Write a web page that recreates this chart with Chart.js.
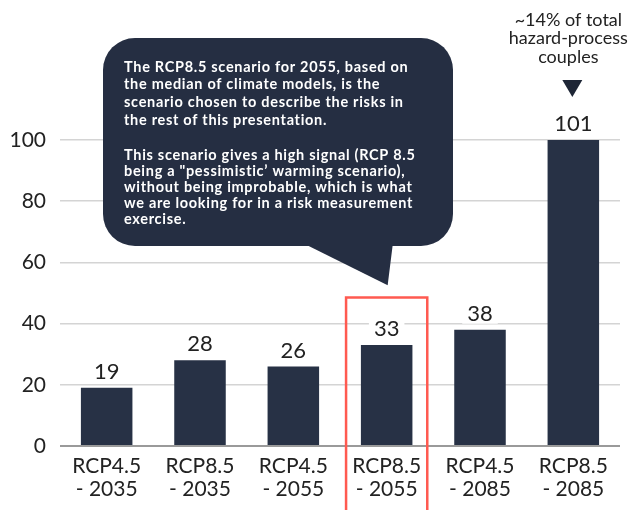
<!DOCTYPE html>
<html>
<head>
<meta charset="utf-8">
<script src="https://cdn.jsdelivr.net/npm/chart.js@4"></script>
<style>
  html, body { margin: 0; padding: 0; background: #fff; }
  #wrap { width: 634px; height: 510px; }
</style>
</head>
<body>
<div id="wrap"><canvas id="chart" width="634" height="510"></canvas></div>
<script>
// data
const categories = [
    ['RCP4.5', '- 2035'],
    ['RCP8.5', '- 2035'],
    ['RCP4.5', '- 2055'],
    ['RCP8.5', '- 2055'],
    ['RCP4.5', '- 2085'],
    ['RCP8.5', '- 2085']
]
const hazardCouples = [19, 28, 26, 33, 38, 101]
const yMin = 0
const yMax = 100
const yStep = 20
const chosenIndex = 3
const calloutPara1 = [
    'The RCP8.5 scenario for 2055, based on',
    'the median of climate models, is the',
    'scenario chosen to describe the risks in',
    'the rest of this presentation.'
]
const calloutPara2 = [
    'This scenario gives a high signal (RCP 8.5',
    'being a "pessimistic\u2019 warming scenario),',
    'without being improbable, which is what',
    'we are looking for in a risk measurement',
    'exercise.'
]
const noteLines = ['~14% of total', 'hazard-process', 'couples']

const FONT = 'Lato, "Noto Sans", sans-serif'
const navy = '#273145'

// value labels on a white patch that cuts the grid lines
const valueLabels = {
    id: 'valueLabels',
    afterDatasetsDraw(chart) {
        const ctx = chart.ctx
        const meta = chart.getDatasetMeta(0)
        ctx.save()
        ctx.font = '22px ' + FONT
        ctx.textAlign = 'center'
        ctx.textBaseline = 'middle'
        meta.data.forEach((bar, i) => {
            let top = Math.max(bar.y, chart.chartArea.top)
            let txt = String(hazardCouples[i])
            let w = ctx.measureText(txt).width + 10
            let cy = top - 16
            ctx.fillStyle = '#fff'
            ctx.fillRect(bar.x - w / 2, cy - 12, w, 22)
            ctx.fillStyle = '#222'
            ctx.fillText(txt, bar.x, cy)
        })
        ctx.restore()
    }
}

// callout bubble, red frame and the note over the last bar
const annotations = {
    id: 'annotations',
    afterDraw(chart) {
        const ctx = chart.ctx
        const x = chart.scales.x
        const y = chart.scales.y
        const step = x.getPixelForValue(1) - x.getPixelForValue(0)

        // red frame round the chosen scenario
        let cx = x.getPixelForValue(chosenIndex)
        ctx.save()
        ctx.strokeStyle = '#ff5a50'
        ctx.lineWidth = 2.5
        ctx.beginPath()
        ctx.moveTo(cx - step * 0.435, chart.height + 5)
        ctx.lineTo(cx - step * 0.435, y.getPixelForValue(48.5))
        ctx.lineTo(cx + step * 0.435, y.getPixelForValue(48.5))
        ctx.lineTo(cx + step * 0.435, chart.height + 5)
        ctx.stroke()

        // bubble
        let bx = 103, by = 38, bw = 350, bh = 208
        ctx.fillStyle = '#252e42'
        ctx.beginPath()
        ctx.roundRect(bx, by, bw, bh, 32)
        ctx.fill()
        ctx.beginPath()
        ctx.moveTo(cx - 80, by + bh - 1)
        ctx.lineTo(cx + 1, y.getPixelForValue(52.5))
        ctx.lineTo(cx + 6, by + bh - 1)
        ctx.closePath()
        ctx.fill()

        ctx.fillStyle = '#fff'
        ctx.font = 'bold 14.5px ' + FONT
        ctx.letterSpacing = '0.7px'
        ctx.textAlign = 'left'
        ctx.textBaseline = 'middle'
        calloutPara1.forEach((line, i) => ctx.fillText(line, 124, 67 + i * 17.8))
        calloutPara2.forEach((line, i) => ctx.fillText(line, 124, 155 + i * 16.2))
        ctx.letterSpacing = '0px'

        // note over the last bar
        let lx = x.getPixelForValue(hazardCouples.length - 1) - 2
        ctx.fillStyle = '#222'
        ctx.font = '18px ' + FONT
        ctx.textAlign = 'center'
        noteLines.forEach((line, i) => ctx.fillText(line, lx - 3, 20 + i * 18.5))
        ctx.fillStyle = '#1e2636'
        ctx.beginPath()
        ctx.moveTo(lx - 9, 80)
        ctx.lineTo(lx + 11, 80)
        ctx.lineTo(lx + 1, 97)
        ctx.closePath()
        ctx.fill()
        ctx.restore()
    }
}

new Chart(document.getElementById('chart'), {
    type: 'bar',
    data: {
        labels: categories,
        datasets: [{
            data: hazardCouples,
            backgroundColor: navy,
            categoryPercentage: 1,
            barPercentage: 0.552
        }]
    },
    options: {
        responsive: false,
        animation: false,
        layout: { padding: { top: 140, right: 14, left: 0, bottom: 0 } },
        plugins: {
            legend: { display: false },
            tooltip: { enabled: false }
        },
        scales: {
            x: {
                grid: { display: false },
                border: { display: false },
                ticks: {
                    color: '#222',
                    font: { family: FONT, size: 21, lineHeight: 1.1 },
                    padding: 1,
                    maxRotation: 0,
                    autoSkip: false
                },
                afterFit(scale) { scale.height = 64 }
            },
            y: {
                min: yMin,
                max: yMax,
                border: { display: false },
                grid: {
                    drawTicks: false,
                    color: ctx => ctx.tick && ctx.tick.value === 0 ? '#9a9a9a' : '#d4d4d4',
                    lineWidth: ctx => ctx.tick && ctx.tick.value === 0 ? 2 : 1.5
                },
                ticks: {
                    stepSize: yStep,
                    color: '#222',
                    font: { family: FONT, size: 21 },
                    padding: 14
                },
                afterFit(scale) { scale.width = 60 }
            }
        }
    },
    plugins: [valueLabels, annotations]
})
</script>
</body>
</html>
